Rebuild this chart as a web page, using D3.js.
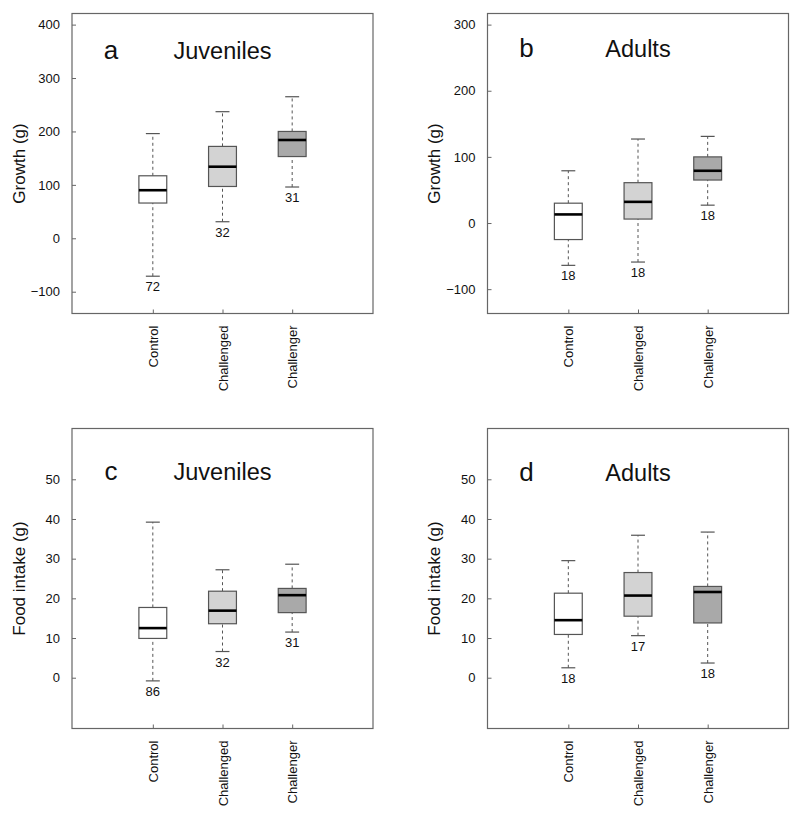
<!DOCTYPE html>
<html>
<head>
<meta charset="utf-8">
<script src="https://cdn.jsdelivr.net/npm/d3@7"></script>
<style>
  body { margin: 0; background: #fff; }
  svg { display: block; font-family: Arial, "Liberation Sans", sans-serif; }
</style>
</head>
<body>
<div id="chart"></div>
<script>
//groups along the x axis
var groups = ["Control", "Challenged", "Challenger"];

//box stats per group: [lower whisker, Q1, median, Q3, upper whisker]
var growthJuveniles = [[-71, 66, 90, 117, 196], [31, 97, 134, 172, 237], [96, 153, 184, 200, 265]];
var growthJuvenilesN = [72, 32, 31];

var growthAdults = [[-64, -25, 13, 30, 79], [-59, 6, 32, 61, 127], [27, 65, 79, 100, 131]];
var growthAdultsN = [18, 18, 18];

var foodJuveniles = [[-0.8, 9.9, 12.5, 17.7, 39.2], [6.6, 13.6, 16.9, 21.8, 27.2], [11.5, 16.4, 20.8, 22.5, 28.6]];
var foodJuvenilesN = [86, 32, 31];

var foodAdults = [[2.5, 10.9, 14.5, 21.3, 29.5], [10.6, 15.5, 20.7, 26.5, 35.9], [3.7, 13.8, 21.6, 23.0, 36.7]];
var foodAdultsN = [18, 17, 18];

//tick labels on the y axes
var growthJuvenilesTicks = [-100, 0, 100, 200, 300, 400];
var growthAdultsTicks = [-100, 0, 100, 200, 300];
var foodTicks = [0, 10, 20, 30, 40, 50];

//fill per group
var fills = ["#ffffff", "#d3d3d3", "#a9a9a9"];

var svg = d3.select("#chart")
  .append("svg")
    .attr("width", 800)
    .attr("height", 821);

//panel setup: position, y limits (R style, padded 4%), labels
var panels = [
  {letter: "a", title: "Juveniles", ylab: "Growth (g)", stats: growthJuveniles, n: growthJuvenilesN,
   ylim: [-120, 400], ticks: growthJuvenilesTicks, left: 72, top: 13.5, titleDy: 45},
  {letter: "b", title: "Adults", ylab: "Growth (g)", stats: growthAdults, n: growthAdultsN,
   ylim: [-120, 300], ticks: growthAdultsTicks, left: 487.5, top: 13.5, titleDy: 43},
  {letter: "c", title: "Juveniles", ylab: "Food intake (g)", stats: foodJuveniles, n: foodJuvenilesN,
   ylim: [-10, 60], ticks: foodTicks, left: 72, top: 428.5, titleDy: 51.5},
  {letter: "d", title: "Adults", ylab: "Food intake (g)", stats: foodAdults, n: foodAdultsN,
   ylim: [-10, 60], ticks: foodTicks, left: 487.5, top: 428.5, titleDy: 52}
];

var w = 301,
    h = 300;

panels.forEach(function(p){

  var pad = (p.ylim[1] - p.ylim[0]) * 0.04;

  //scales: groups sit at 1,2,3 on an x range of 0..4 (padded)
  var x = d3.scaleLinear().domain([-0.16, 4.16]).range([0, w]),
      y = d3.scaleLinear().domain([p.ylim[0] - pad, p.ylim[1] + pad]).range([h, 0]);

  var g = svg.append("g")
    .attr("transform", "translate(" + p.left + "," + p.top + ")");

  //y axis with inward ticks
  var yAxis = g.append("g")
    .call(d3.axisLeft(y).tickValues(p.ticks).tickSizeInner(-4).tickSizeOuter(0).tickPadding(12));
  yAxis.select(".domain").remove();
  yAxis.selectAll("line").attr("stroke", "#666");
  yAxis.selectAll("text")
    .attr("fill", "#111")
    .style("font-size", "13px")
    .text(function(d){ return d < 0 ? "\u2212" + Math.abs(d) : d; });

  //x axis with inward ticks, rotated labels
  var xAxis = g.append("g")
    .attr("transform", "translate(0," + h + ")")
    .call(d3.axisBottom(x).tickValues([1, 2, 3]).tickSizeInner(-4).tickSizeOuter(0)
      .tickFormat(function(d){ return groups[d - 1]; }));
  xAxis.select(".domain").remove();
  xAxis.selectAll("line").attr("stroke", "#666");
  xAxis.selectAll("text")
    .attr("fill", "#111")
    .style("font-size", "13px")
    .attr("text-anchor", "end")
    .attr("transform", "rotate(-90)")
    .attr("x", -12)
    .attr("y", 0)
    .attr("dy", "0.35em");

  //frame
  g.append("rect")
    .attr("width", w)
    .attr("height", h)
    .attr("fill", "none")
    .attr("stroke", "#666")
    .attr("stroke-width", 1.2);

  //y axis title
  g.append("text")
    .attr("transform", "translate(-53," + (h / 2) + ") rotate(-90)")
    .attr("text-anchor", "middle")
    .attr("dy", "0.35em")
    .style("font-size", "17px")
    .attr("fill", "#111")
    .text(p.ylab);

  //panel letter and title
  g.append("text")
    .attr("x", x(0.4))
    .attr("y", p.titleDy)
    .attr("text-anchor", "middle")
    .style("font-size", "26px")
    .attr("fill", "#111")
    .text(p.letter);

  g.append("text")
    .attr("x", x(2))
    .attr("y", p.titleDy)
    .attr("text-anchor", "middle")
    .style("font-size", "23.5px")
    .attr("fill", "#111")
    .text(p.title);

  //one group element per box
  var box = g.selectAll(".box")
    .data(p.stats)
    .enter().append("g")
      .attr("class", "box");

  //whiskers (dashed)
  box.append("line")
    .attr("x1", function(d, i){ return x(i + 1); })
    .attr("x2", function(d, i){ return x(i + 1); })
    .attr("y1", function(d){ return y(d[0]); })
    .attr("y2", function(d){ return y(d[1]); })
    .attr("stroke", "#555")
    .attr("stroke-dasharray", "3,3");

  box.append("line")
    .attr("x1", function(d, i){ return x(i + 1); })
    .attr("x2", function(d, i){ return x(i + 1); })
    .attr("y1", function(d){ return y(d[3]); })
    .attr("y2", function(d){ return y(d[4]); })
    .attr("stroke", "#555")
    .attr("stroke-dasharray", "3,3");

  //caps
  [0, 4].forEach(function(k){
    box.append("line")
      .attr("x1", function(d, i){ return x(i + 0.9); })
      .attr("x2", function(d, i){ return x(i + 1.1); })
      .attr("y1", function(d){ return y(d[k]); })
      .attr("y2", function(d){ return y(d[k]); })
      .attr("stroke", "#555")
      .attr("stroke-width", 1.2);
  });

  //box Q1..Q3
  box.append("rect")
    .attr("x", function(d, i){ return x(i + 0.8); })
    .attr("width", x(1.2) - x(0.8))
    .attr("y", function(d){ return y(d[3]); })
    .attr("height", function(d){ return y(d[1]) - y(d[3]); })
    .attr("fill", function(d, i){ return fills[i]; })
    .attr("stroke", "#555")
    .attr("stroke-width", 1.2);

  //median
  box.append("line")
    .attr("x1", function(d, i){ return x(i + 0.8); })
    .attr("x2", function(d, i){ return x(i + 1.2); })
    .attr("y1", function(d){ return y(d[2]); })
    .attr("y2", function(d){ return y(d[2]); })
    .attr("stroke", "#000")
    .attr("stroke-width", 2.6);

  //sample size below the lower whisker
  box.append("text")
    .attr("x", function(d, i){ return x(i + 1); })
    .attr("y", function(d){ return y(d[0]) + 15; })
    .attr("text-anchor", "middle")
    .style("font-size", "13px")
    .attr("fill", "#111")
    .text(function(d, i){ return p.n[i]; });

});
</script>
</body>
</html>
